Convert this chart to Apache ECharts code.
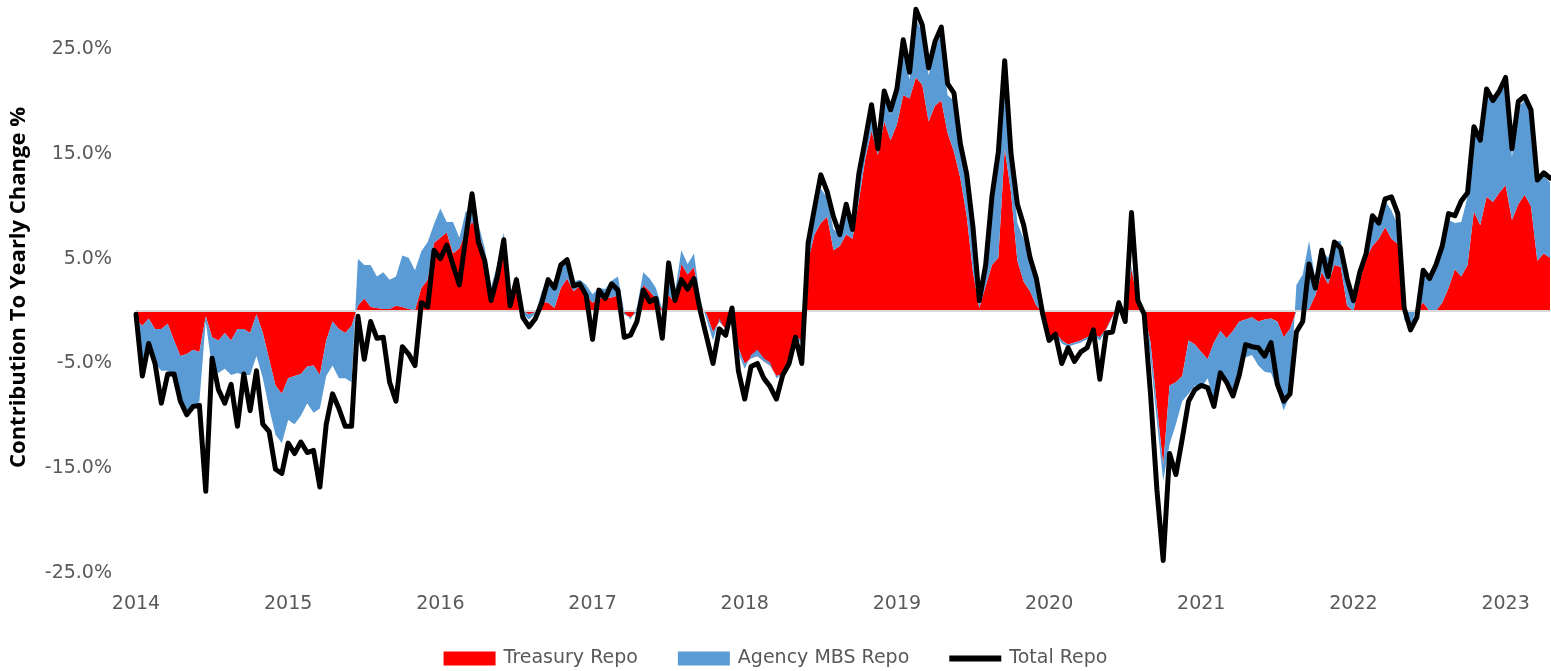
<!DOCTYPE html>
<html>
<head>
<meta charset="utf-8">
<script src="https://cdn.jsdelivr.net/npm/echarts@6/dist/echarts.min.js"></script>
<style>
html,body{margin:0;padding:0;background:#fff;}
#chart{width:1551px;height:671px;}
</style>
</head>
<body>
<div id="chart"></div>
<script>
// Half-monthly observations starting Jan 2014 (24 per year)
const startYear = 2014;
const periodsPerYear = 24;
const yTicks = [-25, -15, -5, 5, 15, 25];
const seriesNames = ['Treasury Repo', 'Agency MBS Repo', 'Total Repo'];

const treasury = [
-0.8,-1.4,-0.7,-1.7,-1.7,-1.2,-2.8,-4.3,-4.1,-3.7,
-3.9,-0.5,-2.5,-2.8,-2.1,-2.8,-1.7,-1.7,-2.1,-0.3,
-2.1,-4.6,-7.1,-7.9,-6.4,-6.2,-6.0,-5.3,-5.2,-6.1,
-2.8,-1.0,-1.7,-2.1,-1.4,0.5,1.2,0.4,0.3,0.2,
0.2,0.5,0.4,0.2,0.1,2.2,3.0,6.5,7.0,7.5,
5.5,6.0,7.5,8.5,7.5,5.5,1.5,3.5,5.5,1.0,
1.8,0.0,-0.3,-0.1,0.9,0.8,0.3,2.2,3.1,1.9,
2.4,1.5,0.8,1.2,1.3,1.3,1.5,-0.3,-0.6,-0.1,
2.5,1.9,1.2,0.1,1.5,0.8,4.5,3.5,4.2,0.5,
-0.3,-2.0,-1.0,-1.7,-0.3,-3.5,-5.0,-4.5,-4.3,-4.8,
-5.2,-6.2,-6.0,-4.6,-2.4,-2.8,4.8,7.3,8.4,9.0,
5.8,6.2,7.3,6.9,10.5,14.5,17.2,14.9,18.1,16.3,
17.8,20.6,20.3,22.3,21.6,18.1,19.6,20.1,17.0,15.2,
12.7,9.1,3.7,0.3,2.4,4.4,5.1,15.5,11.3,4.8,
2.8,1.9,0.5,-0.1,-2.6,-2.0,-2.8,-3.2,-3.0,-2.8,
-2.5,-2.2,-2.5,-1.7,-0.5,0.8,-0.5,4.0,0.8,-0.1,
-3.0,-9.0,-14.7,-7.1,-6.8,-6.2,-2.8,-3.2,-3.9,-4.6,
-3.0,-1.9,-2.6,-1.9,-1.0,-0.8,-0.6,-1.0,-0.8,-0.7,
-1.0,-2.5,-1.7,0.0,0.0,0.2,1.5,3.7,2.6,4.4,
4.2,0.5,0.0,2.8,5.1,6.2,6.9,8.0,6.9,6.4,
0.0,-0.1,0.2,0.8,0.0,0.0,0.8,2.2,4.0,3.3,
4.4,9.5,8.2,10.9,10.4,11.3,12.0,8.7,10.2,11.1,
10.0,4.8,5.5,5.1
];

const agencyMbs = [
-1.0,-3.6,-2.1,-3.3,-4.0,-4.5,-3.3,-4.3,-5.9,-5.8,
-4.7,-0.5,-3.0,-3.1,-3.4,-3.3,-4.2,-4.4,-4.0,-4.0,
-4.3,-4.7,-4.7,-4.7,-4.0,-4.6,-4.0,-3.5,-4.5,-3.2,
-3.4,-4.2,-4.7,-4.3,-5.4,4.5,3.2,4.0,3.0,3.5,
2.8,2.8,4.9,4.9,3.8,3.5,3.6,1.8,2.8,1.0,
3.0,1.0,2.0,1.0,0.8,0.5,0.8,1.0,2.0,0.6,
1.6,-0.3,-0.5,-0.1,1.0,2.4,1.8,2.3,1.8,0.9,
0.6,1.0,0.8,1.0,0.8,1.6,1.8,0.2,-0.2,0.5,
1.2,1.2,1.0,0.1,3.0,1.0,1.3,1.0,1.3,0.5,
-0.5,-0.8,0.3,-0.2,0.8,-0.5,-0.5,0.3,0.6,0.3,
0.3,-0.2,0.0,0.0,-0.3,-0.2,1.2,1.5,3.3,1.8,
2.0,1.1,2.5,0.7,2.2,1.5,2.0,1.0,2.2,2.5,
2.7,4.2,1.8,5.6,5.0,4.4,5.5,6.3,3.6,4.9,
2.5,3.2,3.6,0.8,2.5,5.0,9.0,6.5,3.2,3.6,
4.1,2.5,2.1,-0.2,-0.3,-0.2,-0.3,-0.2,-0.2,-0.2,
-0.2,-0.1,-0.3,-0.1,-0.1,0.3,0.0,0.3,0.2,-0.1,
-1.5,-1.5,-1.5,-5.6,-4.0,-2.4,-5.1,-3.9,-3.5,-1.8,
-5.6,-4.3,-4.0,-6.0,-5.0,-3.6,-3.6,-4.2,-5.0,-5.2,
-6.5,-7.0,-6.3,2.5,3.5,6.5,1.5,2.1,2.5,2.3,
2.5,2.8,1.3,1.4,0.8,2.5,1.8,2.5,2.7,1.8,
-0.8,-1.8,0.5,2.5,3.0,4.2,5.0,6.5,4.4,5.2,
6.5,7.8,7.8,10.0,9.5,9.6,9.8,6.0,9.3,9.0,
8.7,7.6,7.4,7.2
];

const totalRepo = [
-0.3,-6.2,-3.1,-5.0,-8.8,-6.0,-6.0,-8.6,-9.9,-9.1,
-9.0,-17.2,-4.5,-7.5,-8.8,-7.0,-11.0,-6.0,-9.5,-5.7,
-10.8,-11.5,-15.1,-15.5,-12.6,-13.6,-12.5,-13.5,-13.3,-16.8,
-10.8,-7.9,-9.3,-11.0,-11.0,-0.5,-4.6,-1.0,-2.6,-2.5,
-6.8,-8.6,-3.4,-4.1,-5.2,0.8,0.4,5.8,5.0,6.3,
4.4,2.5,7.0,11.2,6.6,4.8,1.0,3.3,6.8,0.5,
3.0,-0.6,-1.5,-0.7,0.8,3.0,2.2,4.4,4.9,2.4,
2.6,1.5,-2.7,2.0,1.2,2.6,2.0,-2.5,-2.3,-1.0,
2.0,0.9,1.2,-2.6,4.6,1.0,3.0,2.1,3.1,0.0,
-2.5,-5.0,-1.7,-2.3,0.3,-5.7,-8.4,-5.3,-5.0,-6.4,
-7.2,-8.4,-6.1,-5.0,-2.5,-5.0,6.5,9.8,13.0,11.4,
9.0,7.3,10.2,7.8,13.1,16.3,19.7,15.5,21.0,19.2,
21.2,25.9,22.8,28.8,27.3,23.2,25.7,27.1,21.7,20.8,
16.0,13.1,8.0,1.0,4.4,11.0,15.2,23.9,15.0,10.2,
8.2,5.1,3.1,-0.3,-2.8,-2.2,-5.0,-3.5,-4.8,-3.9,
-3.5,-1.8,-6.5,-2.1,-2.0,0.8,-1.0,9.4,1.0,-0.3,
-7.9,-17.0,-23.8,-13.6,-15.6,-12.2,-8.6,-7.5,-7.1,-7.3,
-9.1,-5.9,-6.8,-8.1,-6.1,-3.2,-3.4,-3.5,-4.3,-3.0,
-7.0,-8.6,-7.9,-2.0,-1.0,4.5,2.2,5.8,3.3,6.6,
6.0,3.1,1.0,3.7,5.5,9.1,8.4,10.7,10.9,9.3,
0.3,-1.8,-0.6,3.9,3.1,4.4,6.2,9.3,9.1,10.5,
11.3,17.6,16.3,21.2,20.1,21.0,22.3,15.5,20.0,20.5,
19.2,12.5,13.2,12.7
];

// category labels: "YYYY-hN" (half-month index within year)
const periods = treasury.map((_, i) =>
  String(startYear + Math.floor(i / periodsPerYear)) + '-h' + String(i % periodsPerYear + 1));

const chart = echarts.init(document.getElementById('chart'), null, {renderer: 'canvas'});
const tickFont = 'DejaVu Sans';
chart.setOption({
  animation: false,
  backgroundColor: '#ffffff',
  grid: {left: 129, right: 1, top: 2, bottom: 98, containLabel: false},
  legend: {
    bottom: 3,
    left: 'center',
    padding: [0, 5, 0, 5],
    itemWidth: 52,
    itemHeight: 14,
    itemGap: 40,
    textStyle: {fontFamily: tickFont, fontSize: 19, color: '#595959', padding: [0, 0, 0, 3]},
    data: [
      {name: seriesNames[0], icon: 'rect'},
      {name: seriesNames[1], icon: 'rect'},
      {name: seriesNames[2], icon: 'path://M0,0H44V5H0Z'}
    ]
  },
  xAxis: {
    type: 'category',
    boundaryGap: false,
    data: periods,
    axisLine: {show: false},
    axisTick: {show: false},
    splitLine: {show: false},
    axisLabel: {
      margin: 22,
      fontFamily: tickFont,
      fontSize: 19,
      color: '#595959',
      interval: (idx) => idx % periodsPerYear === 0,
      formatter: (val) => val.split('-')[0]
    }
  },
  yAxis: {
    type: 'value',
    min: yTicks[0],
    max: 29.5,
    interval: 10,
    name: 'Contribution To Yearly Change %',
    nameLocation: 'middle',
    nameGap: 106,
    nameRotate: 90,
    nameTextStyle: {fontFamily: 'Open Sans', fontSize: 22, fontWeight: 'bold', color: '#000000'},
    axisLine: {show: false},
    axisTick: {show: false},
    splitLine: {show: false},
    axisLabel: {
      margin: 24,
      fontFamily: tickFont,
      fontSize: 19,
      color: '#595959',
      showMaxLabel: false,
      formatter: v => (yTicks.indexOf(Math.round(v)) >= 0 ? v.toFixed(1) + '%' : '')
    }
  },
  series: [
    {
      name: seriesNames[0],
      type: 'line',
      stack: 'repo',
      stackStrategy: 'all',
      symbol: 'none',
      lineStyle: {width: 0},
      itemStyle: {color: '#ff0000'},
      areaStyle: {color: '#ff0000', opacity: 1},
      data: treasury,
      z: 2,
      markLine: {
        silent: true,
        symbol: ['none', 'none'],
        label: {show: false},
        lineStyle: {color: '#d9d9d9', width: 2, type: 'solid'},
        data: [{yAxis: 0}]
      }
    },
    {
      name: seriesNames[1],
      type: 'line',
      stack: 'repo',
      stackStrategy: 'all',
      symbol: 'none',
      lineStyle: {width: 0},
      itemStyle: {color: '#5b9bd5'},
      areaStyle: {color: '#5b9bd5', opacity: 1},
      data: agencyMbs,
      z: 2
    },
    {
      name: seriesNames[2],
      type: 'line',
      symbol: 'none',
      lineStyle: {width: 5, color: '#000000', join: 'round', cap: 'round'},
      itemStyle: {color: '#000000'},
      data: totalRepo,
      z: 5
    }
  ]
});
</script>
</body>
</html>
